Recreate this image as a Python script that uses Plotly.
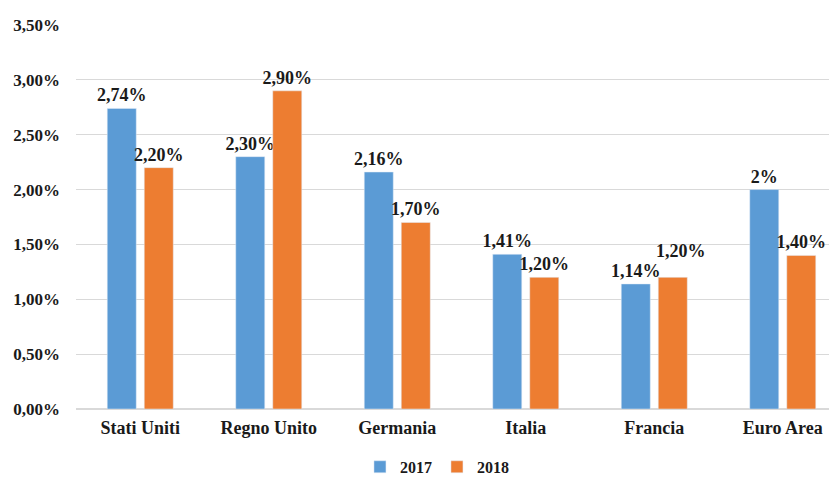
import plotly.graph_objects as go

paesi = ["Stati Uniti", "Regno Unito", "Germania", "Italia", "Francia", "Euro Area"]
val_2017 = [0.0274, 0.0230, 0.0216, 0.0141, 0.0114, 0.0200]
val_2018 = [0.0220, 0.0290, 0.0170, 0.0120, 0.0120, 0.0140]
etichette_2017 = ["2,74%", "2,30%", "2,16%", "1,41%", "1,14%", "2%"]
etichette_2018 = ["2,20%", "2,90%", "1,70%", "1,20%", "1,20%", "1,40%"]

font_serif = "Liberation Serif"
lab_font = dict(family=font_serif, size=18, color="#1a1a1a", weight="bold")

# Francia 2018 label is lifted above its bar in the original, drawn separately
testo_2018 = list(etichette_2018)
testo_2018[4] = ""

fig = go.Figure()
fig.add_trace(go.Bar(
    x=paesi, y=val_2017, name="2017", marker_color="#5B9BD5",
    text=etichette_2017, textposition="outside", cliponaxis=False,
))
fig.add_trace(go.Bar(
    x=paesi, y=val_2018, name="2018", marker_color="#ED7D31",
    text=testo_2018, textposition="outside", cliponaxis=False,
))
fig.update_traces(textfont=lab_font)

fig.add_annotation(
    x=paesi[4], y=val_2018[4], text=etichette_2018[4], showarrow=False,
    xanchor="center", yanchor="bottom", xshift=27, yshift=14, font=lab_font,
)

# the page body adds an 8px offset, margins compensate for it
fig.update_layout(
    width=837, height=477,
    margin=dict(l=68, r=8, t=17, b=76, autoexpand=False),
    paper_bgcolor="white", plot_bgcolor="white",
    barmode="group", bargap=0.424, bargroupgap=0.216,
    separators=",.",
    font=dict(family=font_serif, size=16, color="#1a1a1a"),
    legend=dict(orientation="h", x=0.5125, xref="container", xanchor="center",
                y=0.038, yref="container", yanchor="middle",
                itemwidth=30, traceorder="normal",
                font=dict(family=font_serif, size=16, weight="bold")),
    uniformtext=dict(minsize=14, mode="show"),
)
fig.update_yaxes(
    range=[0, 0.035], dtick=0.005, tickformat=".2%",
    showgrid=True, gridcolor="#D9D9D9", zeroline=True, zerolinecolor="#D9D9D9",
    ticks="", ticklabelstandoff=15,
    tickfont=dict(family=font_serif, size=17, weight="bold"),
)
fig.update_xaxes(
    range=[-0.5, 5.422],
    showline=False, ticks="", ticklabelstandoff=6,
    tickfont=dict(family=font_serif, size=18, weight="bold"),
)

fig.write_html("out.html")
